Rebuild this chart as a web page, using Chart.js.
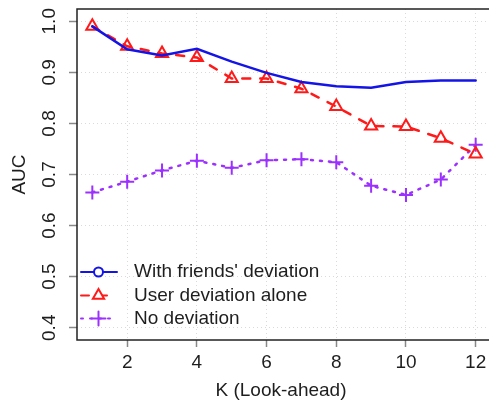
<!DOCTYPE html>
<html><head><meta charset="utf-8">
<style>html,body{margin:0;padding:0;overflow:hidden;background:#fff;width:489px;height:406px}</style>
<script src="https://cdn.jsdelivr.net/npm/chart.js@4"></script>
</head><body>
<canvas id="c" width="500" height="406" style="display:block;width:500px;height:406px"></canvas>
<script>
const kValues = [1,2,3,4,5,6,7,8,9,10,11,12];
const withFriends = [0.990,0.945,0.933,0.946,0.921,0.899,0.881,0.873,0.870,0.881,0.884,0.884];
const userAlone = [0.990,0.951,0.937,0.929,0.888,0.888,0.868,0.833,0.795,0.794,0.771,0.740];
const noDeviation = [0.665,0.686,0.708,0.727,0.713,0.728,0.730,0.724,0.678,0.660,0.690,0.758];
const xTicks = [2,4,6,8,10,12];
const yTicks = [0.4,0.5,0.6,0.7,0.8,0.9,1.0];
const seriesLabels = ["With friends' deviation","User deviation alone","No deviation"];
const xTitle = "K (Look-ahead)";
const yTitle = "AUC";

const FAMILY = '"Liberation Sans", Arial, Helvetica, sans-serif';
const FONT = '19px ' + FAMILY;
const BLUE = '#1414e6', RED = '#ff1a1a', PURPLE = '#9b30ff';
const TEXT = '#1e1e1e';

function pts(arr){ return kValues.map((k,i)=>({x:k,y:arr[i]})); }

const decor = {
  id:'decor',
  afterDraw(chart){
    const {ctx, chartArea:a, scales:{x,y}} = chart;
    ctx.save();
    ctx.strokeStyle='#222'; ctx.lineWidth=1.5; ctx.setLineDash([]);
    ctx.strokeRect(a.left, a.top, a.right-a.left, a.bottom-a.top);
    ctx.fillStyle=TEXT; ctx.font=FONT;
    ctx.textAlign='center'; ctx.textBaseline='middle';
    y.ticks.forEach(t=>{
      const py=y.getPixelForValue(t.value);
      ctx.save(); ctx.translate(50,py); ctx.rotate(-Math.PI/2);
      ctx.fillText(t.value.toFixed(1),0,0); ctx.restore();
    });
    ctx.fillText(xTitle,(a.left+a.right)/2 - 3, 391);
    ctx.save(); ctx.translate(20,(a.top+a.bottom)/2); ctx.rotate(-Math.PI/2);
    ctx.fillText(yTitle,0,0); ctx.restore();
    // legend
    const rows=[272,295.5,318.5];
    const ds=chart.data.datasets;
    ds.forEach((d,i)=>{
      const yy=rows[i];
      ctx.strokeStyle=d.borderColor; ctx.lineWidth=2; ctx.lineCap='round';
      ctx.setLineDash(d.borderDash||[]);
      ctx.beginPath(); ctx.moveTo(81,yy); ctx.lineTo(117,yy); ctx.stroke();
      ctx.setLineDash([]);
      ctx.lineWidth=2;
      const cx=98.5;
      if(i===0){ ctx.fillStyle='#fff'; ctx.beginPath(); ctx.arc(cx,yy,4.5,0,Math.PI*2); ctx.fill(); ctx.stroke(); }
      else if(i===1){ const r=6.5; ctx.fillStyle='#fff'; ctx.beginPath();
        ctx.moveTo(cx,yy-r); ctx.lineTo(cx+r*0.866,yy+r*0.5); ctx.lineTo(cx-r*0.866,yy+r*0.5); ctx.closePath(); ctx.fill(); ctx.stroke(); }
      else { const r=7; ctx.beginPath(); ctx.moveTo(cx-r,yy); ctx.lineTo(cx+r,yy); ctx.moveTo(cx,yy-r); ctx.lineTo(cx,yy+r); ctx.stroke(); }
      ctx.fillStyle=TEXT; ctx.textAlign='left'; ctx.textBaseline='middle';
      ctx.fillText(d.label,134,yy);
    });
    ctx.restore();
  }
};

new Chart(document.getElementById('c'),{
  type:'line',
  data:{datasets:[
    {label:seriesLabels[0],data:pts(withFriends),borderColor:BLUE,backgroundColor:BLUE,borderWidth:2.5,pointRadius:0,tension:0,fill:false,borderCapStyle:'round'},
    {label:seriesLabels[1],data:pts(userAlone),borderColor:RED,backgroundColor:'rgba(0,0,0,0)',borderWidth:2.5,borderDash:[8,10],borderCapStyle:'round',pointStyle:'triangle',pointRadius:7,pointBorderWidth:2,pointBorderColor:RED,tension:0,fill:false},
    {label:seriesLabels[2],data:pts(noDeviation),borderColor:PURPLE,backgroundColor:PURPLE,borderWidth:2.5,borderDash:[2,7],borderCapStyle:'round',pointStyle:'cross',pointRadius:7,pointBorderWidth:2,pointBorderColor:PURPLE,tension:0,fill:false}
  ]},
  options:{
    responsive:false,animation:false,devicePixelRatio:1,
    layout:{padding:{top:9,right:5,left:0,bottom:0}},
    plugins:{legend:{display:false},tooltip:{enabled:false}},
    scales:{
      x:{type:'linear',min:0.56,max:12.44,
        afterBuildTicks(s){ s.ticks=xTicks.map(v=>({value:v})); },
        afterFit(s){ s.height=66; },
        grid:{color:'#dadada',lineWidth:1,tickLength:7,tickColor:'#888',tickWidth:1.5,tickBorderDash:[]},
        border:{display:false,dash:[1,3]},
        ticks:{font:{family:FAMILY,size:19},color:TEXT,padding:4,maxRotation:0,autoSkip:false,callback:v=>String(v)}
      },
      y:{type:'linear',min:0.376,max:1.024,
        afterBuildTicks(s){ s.ticks=yTicks.map(v=>({value:v})); },
        afterFit(s){ s.width=77; },
        grid:{color:'#dadada',lineWidth:1,tickLength:8,tickColor:'#888',tickWidth:1.5,tickBorderDash:[]},
        border:{display:false,dash:[1,3]},
        ticks:{display:false}
      }
    }
  },
  plugins:[decor]
});
</script>
</body></html>
